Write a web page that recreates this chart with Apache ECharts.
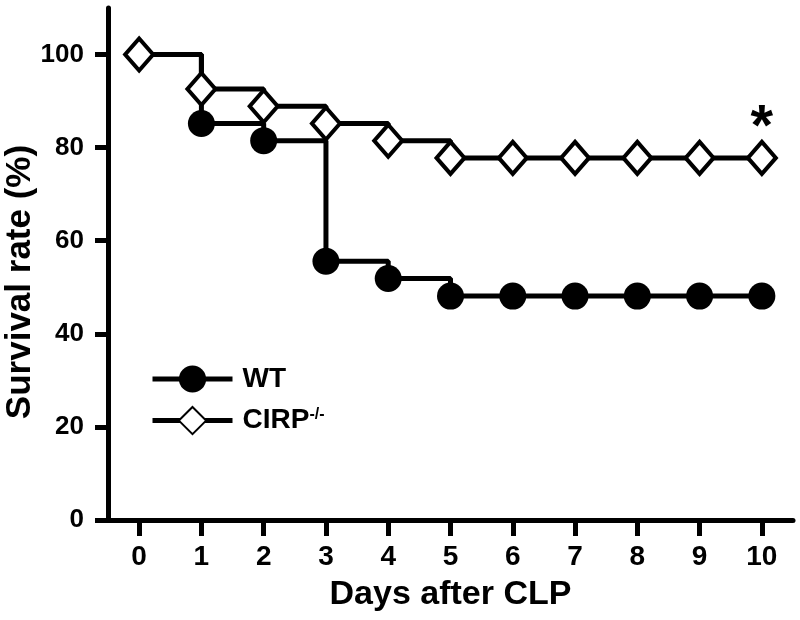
<!DOCTYPE html>
<html>
<head>
<meta charset="utf-8">
<script src="https://cdn.jsdelivr.net/npm/echarts@6/dist/echarts.min.js"></script>
<style>
  html, body { margin: 0; padding: 0; background: #fff; }
  #chart { width: 800px; height: 620px; }
</style>
</head>
<body>
<div id="chart"></div>
<script>
var days = [0, 1, 2, 3, 4, 5, 6, 7, 8, 9, 10];
var wtSurvival = [100, 85.2, 81.5, 55.6, 51.9, 48.1, 48.1, 48.1, 48.1, 48.1, 48.1];
var cirpSurvival = [100, 92.6, 88.9, 85.2, 81.5, 77.8, 77.8, 77.8, 77.8, 77.8, 77.8];
var yTicks = [0, 20, 40, 60, 80, 100];

var font = 'Liberation Sans, Arial, sans-serif';

function pairs(xs, ys) {
	var out = [];
	for (var i = 0; i < xs.length; i++) {
		out.push([xs[i], ys[i]]);
	}
	return out;
}

var wtData = pairs(days, wtSurvival);
// first WT point sits under the CIRP diamond, no marker there
wtData[0] = { value: wtData[0], symbol: 'none' };

var cirpData = pairs(days, cirpSurvival);
var last = cirpData.length - 1;
cirpData[last] = {
	value: cirpData[last],
	label: {
		show: true,
		position: 'top',
		distance: 2,
		offset: [0, 20],
		formatter: '*',
		color: '#000',
		fontFamily: font,
		fontWeight: 'bold',
		fontSize: 58
	}
};

var myChart = echarts.init(document.getElementById('chart'));

var option = {
	animation: false,
	grid: {
		left: 108,
		right: 7,
		top: 8,
		bottom: 100,
		containLabel: false,
		outerBoundsMode: 'none'
	},
	legend: {
		orient: 'vertical',
		left: 150,
		top: 365,
		padding: 0,
		itemWidth: 80,
		itemHeight: 34,
		itemGap: 13,
		data: ['WT', 'CIRP-/-'],
		lineStyle: { width: 5 },
		formatter: function(name) {
			return name.replace('-/-', '{sup|-/-}');
		},
		textStyle: {
			color: '#000',
			fontFamily: font,
			fontWeight: 'bold',
			fontSize: 28,
			padding: [0, 0, 0, 5],
			rich: {
				sup: {
					color: '#000',
					fontFamily: font,
					fontSize: 16,
					verticalAlign: 'top',
					padding: [0, 0, 12, 0]
				}
			}
		}
	},
	xAxis: {
		type: 'value',
		min: -0.5,
		max: 10.5,
		name: 'Days after CLP',
		nameLocation: 'middle',
		nameGap: 58,
		nameMoveOverlap: false,
		nameTextStyle: {
			color: '#000',
			fontFamily: font,
			fontWeight: 'bold',
			fontSize: 34
		},
		axisLine: {
			show: true,
			lineStyle: { color: '#000', width: 5 }
		},
		axisTick: {
			show: true,
			customValues: days,
			length: 16,
			lineStyle: { color: '#000', width: 5 }
		},
		axisLabel: {
			customValues: days,
			margin: 23,
			color: '#000',
			fontFamily: font,
			fontWeight: 'bold',
			fontSize: 28
		},
		splitLine: { show: false }
	},
	yAxis: {
		type: 'value',
		min: 0,
		max: 110,
		name: 'Survival rate (%)',
		nameLocation: 'middle',
		nameGap: 70,
		nameMoveOverlap: false,
		nameTextStyle: {
			color: '#000',
			fontFamily: font,
			fontWeight: 'bold',
			fontSize: 35,
			padding: [0, 36, 0, 0]
		},
		axisLine: {
			show: true,
			onZero: false,
			lineStyle: { color: '#000', width: 5 }
		},
		axisTick: {
			show: true,
			customValues: yTicks,
			length: 13,
			lineStyle: { color: '#000', width: 5 }
		},
		axisLabel: {
			customValues: yTicks,
			margin: 24,
			color: '#000',
			fontFamily: font,
			fontWeight: 'bold',
			fontSize: 26
		},
		splitLine: { show: false }
	},
	series: [
		{
			name: 'WT',
			type: 'line',
			step: 'end',
			symbol: 'circle',
			symbolSize: 27,
			lineStyle: { color: '#000', width: 5 },
			itemStyle: { color: '#000', borderColor: '#000', borderWidth: 0 },
			z: 2,
			data: wtData
		},
		{
			name: 'CIRP-/-',
			type: 'line',
			step: 'end',
			symbol: 'diamond',
			symbolSize: [28, 32],
			lineStyle: { color: '#000', width: 5 },
			itemStyle: { color: '#fff', borderColor: '#000', borderWidth: 4 },
			z: 3,
			data: cirpData
		}
	]
};

myChart.setOption(option, true);
</script>
</body>
</html>
